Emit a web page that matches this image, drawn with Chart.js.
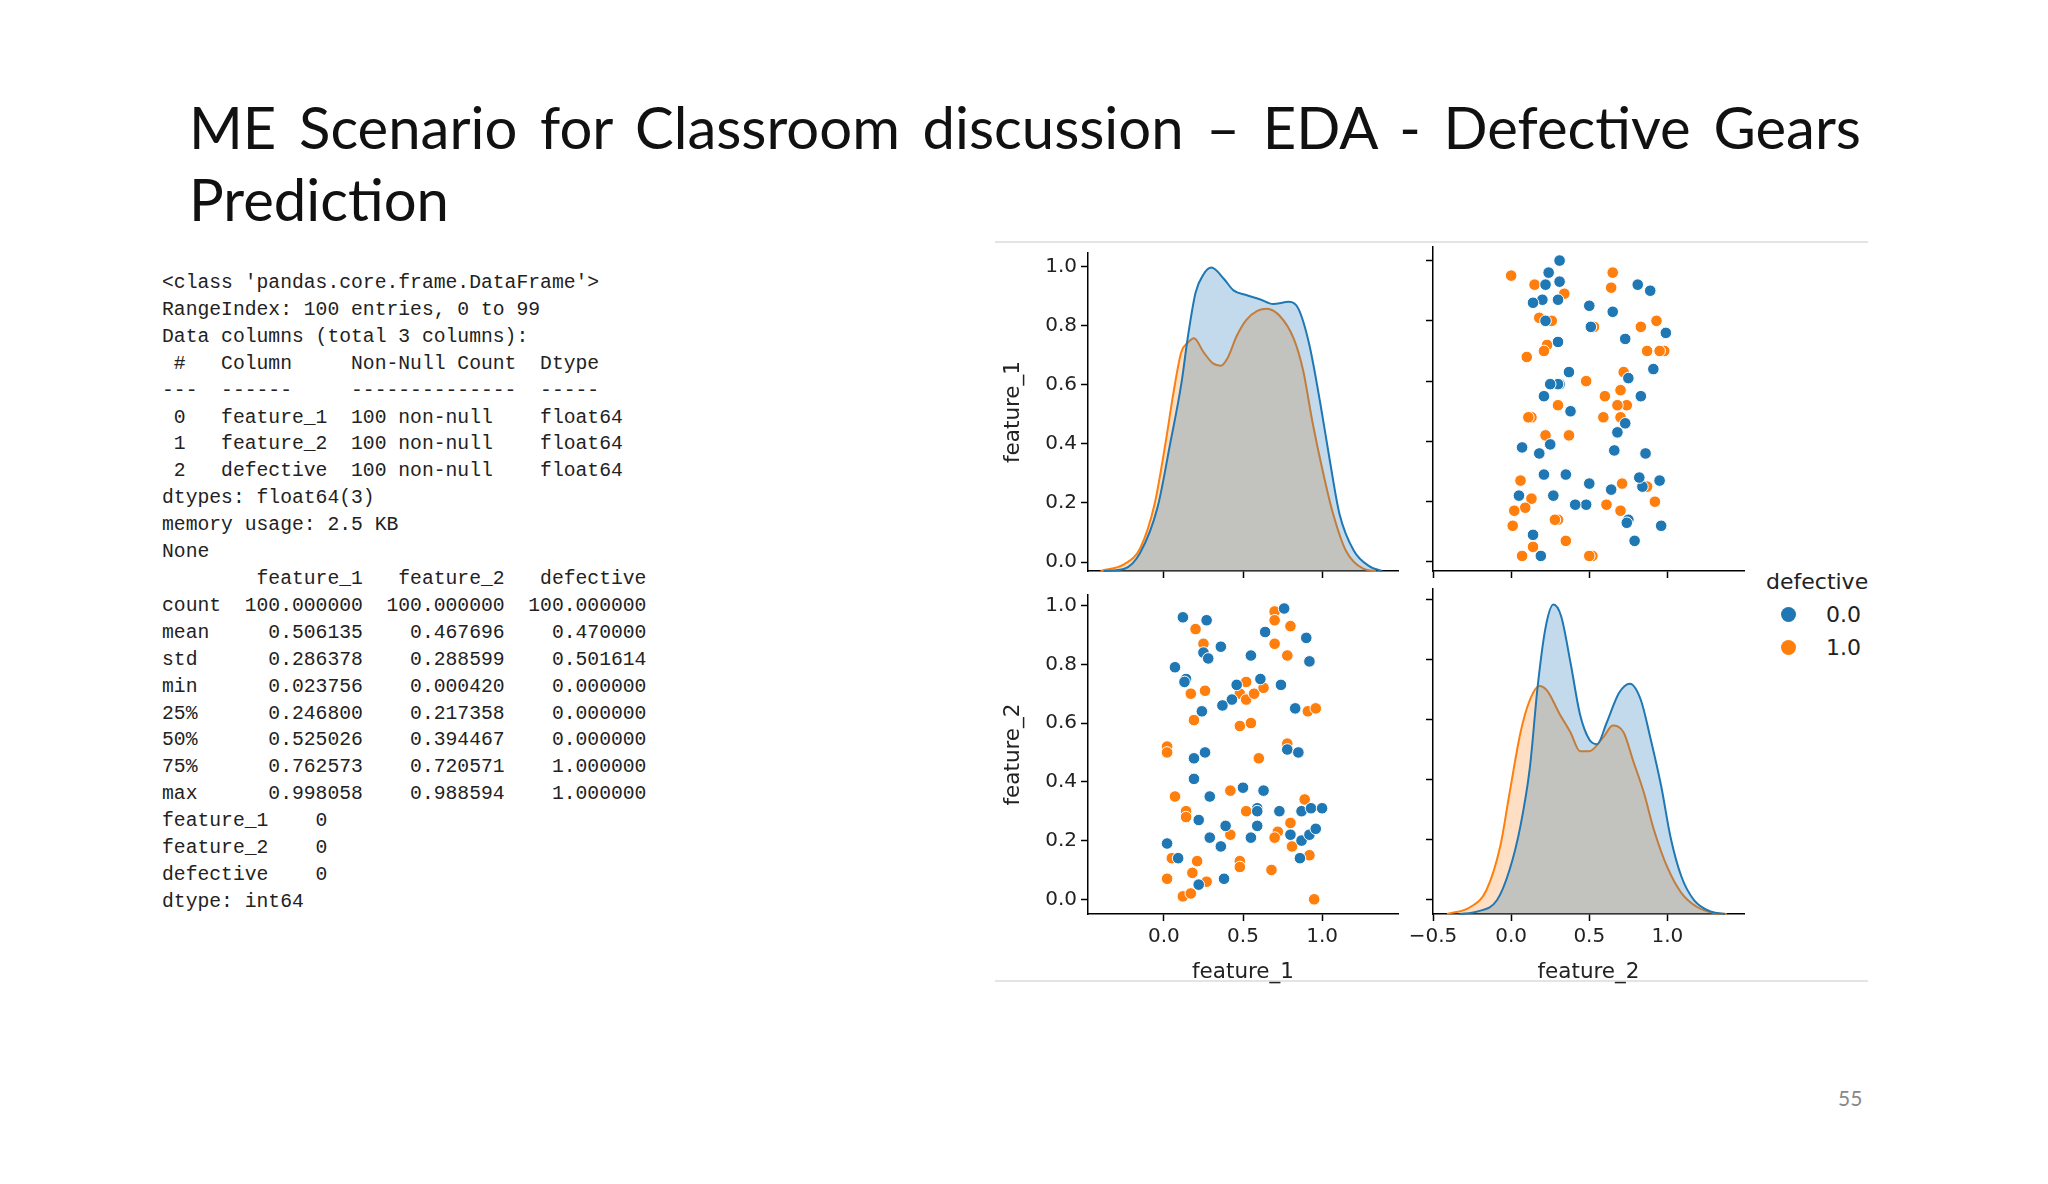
<!DOCTYPE html>
<html><head><meta charset="utf-8">
<script src="https://cdn.jsdelivr.net/npm/chart.js@4/dist/chart.umd.min.js"></script>
<style>
  body { margin: 0; width: 2048px; height: 1184px; background: #fff; position: relative; overflow: hidden; font-family: "DejaVu Sans", sans-serif; }
  .title { position: absolute; left: 189px; width: 1672px; font-family: Lato, "Noto Sans", sans-serif; font-size: 58px; color: #111; }
  .t1 { top: 92px; text-align: justify; text-align-last: justify; }
  .t2 { top: 164px; }
  pre { position: absolute; left: 162px; top: 270px; margin: 0; font-family: "Liberation Mono", monospace; font-size: 19.7px; line-height: 26.9px; color: #222; }
  .box { position: absolute; }
  .rule { position: absolute; left: 995px; width: 873px; height: 2px; background: #e4e4e4; }
  .leg { position: absolute; left: 1766px; top: 565px; font-size: 22px; color: #222; }
  .leg div { height: 33px; line-height: 33px; position: relative; padding-left: 60px; }
  .leg div.h { padding-left: 0; }
  .leg span { position: absolute; left: 15px; top: 9px; width: 15px; height: 15px; border-radius: 50%; }
  .pg { position: absolute; left: 1838px; top: 1085px; font-family: Lato, sans-serif; font-size: 21px; color: #888; }
</style></head>
<body>
<div class="title t1">ME Scenario for Classroom discussion – EDA - Defective Gears</div>
<div class="title t2">Prediction</div>
<pre>&lt;class 'pandas.core.frame.DataFrame'&gt;
RangeIndex: 100 entries, 0 to 99
Data columns (total 3 columns):
 #   Column     Non-Null Count  Dtype  
---  ------     --------------  -----  
 0   feature_1  100 non-null    float64
 1   feature_2  100 non-null    float64
 2   defective  100 non-null    float64
dtypes: float64(3)
memory usage: 2.5 KB
None
        feature_1   feature_2   defective
count  100.000000  100.000000  100.000000
mean     0.506135    0.467696    0.470000
std      0.286378    0.288599    0.501614
min      0.023756    0.000420    0.000000
25%      0.246800    0.217358    0.000000
50%      0.525026    0.394467    0.000000
75%      0.762573    0.720571    1.000000
max      0.998058    0.988594    1.000000
feature_1    0
feature_2    0
defective    0
dtype: int64</pre>
<div class="rule" style="top:241px"></div>
<div class="rule" style="top:980px"></div>
<div class="box" id="b0"><canvas id="c0"></canvas></div>
<div class="box" id="b1"><canvas id="c1"></canvas></div>
<div class="box" id="b2"><canvas id="c2"></canvas></div>
<div class="box" id="b3"><canvas id="c3"></canvas></div>
<div class="leg">
  <div class="h">defective</div>
  <div><span style="background:#1f77b4"></span>0.0</div>
  <div><span style="background:#ff7f0e"></span>1.0</div>
</div>
<div class="pg">55</div>
<script>
// points (defective 0.0 / 1.0)
const f1Blue = [.12,.27,.76,.64,.90,.36,.55,.25,.28,.92,.07,.14,.13,.46,.61,.74,.43,.37,.24,.83,.26,.19,.78,.85,.19,.50,.63,.29,.59,.59,.73,.87,.93,1.0,.22,.39,.59,.55,.80,.87,.92,.96,.02,.29,.36,.09,.86,.38,.22];
const f2Blue = [.96,.95,.99,.91,.89,.86,.83,.84,.82,.81,.79,.75,.74,.73,.75,.73,.68,.66,.64,.65,.50,.48,.51,.50,.41,.38,.37,.35,.31,.30,.30,.30,.31,.31,.27,.25,.25,.21,.22,.20,.22,.24,.19,.21,.18,.14,.14,.07,.05];
const f1Orange = [.70,.70,.80,.20,.25,.70,.78,.52,.48,.52,.57,.63,.17,.26,.91,.96,.19,.48,.55,.02,.02,.78,.60,.07,.42,.89,.14,.14,.52,.80,.42,.72,.70,.81,.92,.05,.21,.48,.48,.68,.18,.02,.27,.12,.17,.95];
const f2Orange = [.98,.95,.93,.92,.87,.87,.83,.74,.70,.68,.70,.72,.70,.71,.64,.65,.61,.59,.60,.52,.50,.53,.48,.35,.37,.34,.30,.28,.30,.26,.22,.23,.21,.18,.15,.14,.13,.13,.11,.10,.09,.07,.06,.01,.02,.00];

// density curves
const kdeF1BlueX = [-0.38,-0.25,-0.15,-0.04,0.04,0.11,0.15,0.20,0.25,0.30,0.38,0.44,0.52,0.61,0.69,0.79,0.85,0.92,0.99,1.05,1.11,1.20,1.30,1.38];
const kdeF1BlueY = [0,0.01,0.08,0.28,0.56,0.82,1.02,1.22,1.30,1.33,1.28,1.23,1.21,1.19,1.17,1.18,1.15,0.99,0.73,0.48,0.25,0.09,0.02,0];
const kdeF1OrangeX = [-0.40,-0.25,-0.15,-0.06,0.01,0.06,0.11,0.15,0.19,0.25,0.31,0.36,0.40,0.46,0.52,0.59,0.65,0.73,0.82,0.88,0.94,1.01,1.07,1.15,1.26,1.34];
const kdeF1OrangeY = [0,0.03,0.10,0.29,0.56,0.78,0.96,1.00,1.02,0.96,0.91,0.90,0.93,1.03,1.10,1.14,1.15,1.12,1.02,0.88,0.65,0.42,0.25,0.09,0.01,0];
const kdeF2BlueX = [-0.33,-0.22,-0.09,-0.01,0.06,0.12,0.17,0.22,0.27,0.32,0.38,0.44,0.50,0.55,0.61,0.69,0.76,0.83,0.89,0.96,1.02,1.09,1.17,1.28,1.37];
const kdeF2BlueY = [0,0.01,0.06,0.19,0.38,0.63,0.98,1.23,1.33,1.28,1.08,0.86,0.75,0.73,0.82,0.95,0.99,0.92,0.76,0.55,0.33,0.16,0.06,0.01,0];
const kdeF2OrangeX = [-0.41,-0.26,-0.16,-0.07,-0.01,0.06,0.12,0.18,0.23,0.31,0.38,0.44,0.50,0.59,0.65,0.72,0.78,0.85,0.91,1.00,1.09,1.19,1.30,1.38];
const kdeF2OrangeY = [0,0.03,0.10,0.29,0.52,0.78,0.92,0.98,0.96,0.86,0.78,0.70,0.70,0.76,0.81,0.78,0.66,0.52,0.37,0.20,0.09,0.03,0.004,0];

const ticksUnit = [0, 0.2, 0.4, 0.6, 0.8, 1.0];
const ticksLeftX = [0, 0.5, 1.0];
const ticksRightX = [-0.5, 0, 0.5, 1.0];

const BLUE = "#1f77b4", ORANGE = "#ff7f0e";
const pts = (xs, ys) => xs.map((x, i) => ({ x, y: ys[i] }));
const fmt = (v) => (v < 0 ? "\u2212" : "") + Math.abs(v).toFixed(1);
const FONT = { family: "DejaVu Sans", size: 20 };
const TFONT = { family: "DejaVu Sans", size: 21.5 };
const YW = 88, XH = 72, PT = 10, PR = 10;

function axis(min, max, ticks, opts) {
  return {
    type: "linear", min, max,
    afterBuildTicks: (s) => { s.ticks = ticks.map((v) => ({ value: v })); },
    border: { display: true, color: "#000", width: 1.5 },
    grid: { display: true, drawOnChartArea: false, drawTicks: true, tickLength: 7, tickColor: "#000", tickWidth: 1.5 },
    ticks: { display: opts.labels, color: "#222", font: FONT, padding: 4, callback: fmt, autoSkip: false, maxRotation: 0 },
    title: { display: !!opts.title, text: opts.title || "", color: "#222", font: TFONT, padding: 1 }
  };
}

function scatterSets(xB, yB, xO, yO) {
  return [
    { type: "scatter", data: pts(xB, yB), backgroundColor: BLUE, borderColor: "#fff", borderWidth: 1, pointRadius: 5.8 },
    { type: "scatter", data: pts(xO, yO), backgroundColor: ORANGE, borderColor: "#fff", borderWidth: 1, pointRadius: 5.8 }
  ];
}
function kdeSets(xB, yB, xO, yO) {
  return [
    { type: "line", data: pts(xB, yB), yAxisID: "k", borderColor: BLUE, borderWidth: 2, backgroundColor: "rgba(31,119,180,0.27)", fill: "origin", pointRadius: 0, cubicInterpolationMode: "monotone", order: 0 },
    { type: "line", data: pts(xO, yO), yAxisID: "k", borderColor: ORANGE, borderWidth: 2, backgroundColor: "rgba(255,127,14,0.25)", fill: "origin", pointRadius: 0, cubicInterpolationMode: "monotone", order: 1 }
  ];
}

function panel(idx, area, datasets, x, y, kmax) {
  const box = document.getElementById("b" + idx);
  const w = YW + (area.r - area.l) + PR, h = PT + (area.b - area.t) + XH;
  box.style.left = (area.l - YW) + "px"; box.style.top = (area.t - PT) + "px";
  box.style.width = w + "px"; box.style.height = h + "px";
  x.afterFit = (s) => { s.height = XH; };
  y.afterFit = (s) => { s.width = YW; };
  const scales = { x, y };
  if (kmax) scales.k = { type: "linear", display: false, min: 0, max: kmax };
  new Chart(document.getElementById("c" + idx), {
    data: { datasets },
    options: { responsive: true, maintainAspectRatio: false, animation: false, clip: false,
      layout: { padding: { top: PT, right: PR, left: 0, bottom: 0 } },
      plugins: { legend: { display: false }, tooltip: { enabled: false } }, scales }
  });
}

// top-left: feature_1 density
panel(0, { l: 1088, r: 1398, t: 247, b: 571 }, kdeSets(kdeF1BlueX, kdeF1BlueY, kdeF1OrangeX, kdeF1OrangeY),
  axis(-0.48, 1.48, ticksLeftX, { labels: false }), axis(-0.03, 1.045, ticksUnit, { labels: true, title: "feature_1" }), 1.394);
// top-right: feature_2 vs feature_1
panel(1, { l: 1433, r: 1744, t: 247, b: 571 }, scatterSets(f2Blue, f1Blue, f2Orange, f1Orange),
  axis(-0.5, 1.49, ticksRightX, { labels: false }), axis(-0.03, 1.045, ticksUnit, { labels: false }));
// bottom-left: feature_1 vs feature_2
panel(2, { l: 1088, r: 1398, t: 589, b: 914 }, scatterSets(f1Blue, f2Blue, f1Orange, f2Orange),
  axis(-0.48, 1.48, ticksLeftX, { labels: true, title: "feature_1" }), axis(-0.05, 1.036, ticksUnit, { labels: true, title: "feature_2" }));
// bottom-right: feature_2 density
panel(3, { l: 1433, r: 1744, t: 589, b: 914 }, kdeSets(kdeF2BlueX, kdeF2BlueY, kdeF2OrangeX, kdeF2OrangeY),
  axis(-0.5, 1.49, ticksRightX, { labels: true, title: "feature_2" }), axis(-0.05, 1.036, ticksUnit, { labels: false }), 1.397);
</script>
</body></html>
